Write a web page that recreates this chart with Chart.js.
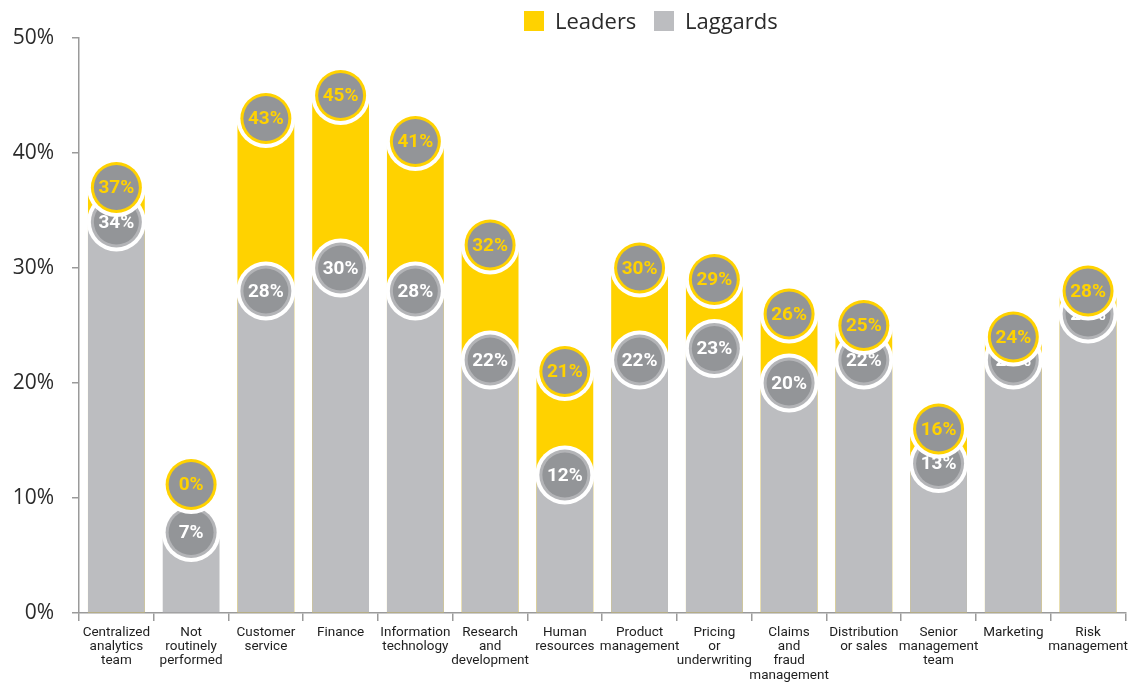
<!DOCTYPE html>
<html>
<head>
<meta charset="utf-8">
<script src="https://cdn.jsdelivr.net/npm/chart.js@4.4.1/dist/chart.umd.min.js"></script>
<style>
  html, body { margin: 0; padding: 0; background: #fff; }
  #wrap { width: 1133px; height: 683px; position: relative; }
</style>
</head>
<body>
<div id="wrap"><canvas id="c" width="1133" height="683"></canvas></div>
<script>
const categories = [
  ["Centralized", "analytics", "team"],
  ["Not", "routinely", "performed"],
  ["Customer", "service"],
  ["Finance"],
  ["Information", "technology"],
  ["Research", "and", "development"],
  ["Human", "resources"],
  ["Product", "management"],
  ["Pricing", "or", "underwriting"],
  ["Claims", "and", "fraud", "management"],
  ["Distribution", "or sales"],
  ["Senior", "management", "team"],
  ["Marketing"],
  ["Risk", "management"]
];
const leaders  = [37, 0, 43, 45, 41, 32, 21, 30, 29, 26, 25, 16, 24, 28];
const laggards = [34, 7, 28, 30, 28, 22, 12, 22, 23, 20, 22, 13, 22, 26];
const yTicks = [0, 10, 20, 30, 40, 50];
const seriesNames = ["Leaders", "Laggards"];

const YELLOW = "#FFD200";
const BAR_GREY = "#BCBDC0";
const DISC_GREY = "#939598";
const RING_GREY = "#B3B4B7";

const circlePlugin = {
  id: "circles",
  afterDatasetsDraw(chart) {
    const ctx = chart.ctx;
    const lagMeta = chart.getDatasetMeta(1);
    const leadMeta = chart.getDatasetMeta(0);
    const R = 25.5, INNER = 22.5, WHITE = 29.5;
    function disc(x, y, ring, textColor, label) {
      ctx.save();
      ctx.beginPath(); ctx.arc(x, y, WHITE, 0, Math.PI * 2); ctx.fillStyle = "#fff"; ctx.fill();
      ctx.beginPath(); ctx.arc(x, y, R, 0, Math.PI * 2); ctx.fillStyle = ring; ctx.fill();
      ctx.beginPath(); ctx.arc(x, y, INNER, 0, Math.PI * 2); ctx.fillStyle = DISC_GREY; ctx.fill();
      ctx.fillStyle = textColor;
      ctx.font = "bold 19px Roboto";
      ctx.textAlign = "center";
      ctx.textBaseline = "middle";
      ctx.fillText(label, x, y + 1);
      ctx.restore();
    }
    const lagY = [];
    lagMeta.data.forEach((el, i) => {
      lagY[i] = el.y;
      disc(el.x, el.y, RING_GREY, "#fff", laggards[i] + "%");
    });
    leadMeta.data.forEach((el, i) => {
      let y = el.y;
      if (leaders[i] < laggards[i]) y = lagY[i] - 48;
      disc(el.x, y, YELLOW, YELLOW, leaders[i] + "%");
    });
  }
};

const legendPlugin = {
  id: "customLegend",
  afterDraw(chart) {
    const ctx = chart.ctx;
    ctx.save();
    ctx.font = "22px 'Open Sans'";
    ctx.textBaseline = "middle";
    ctx.textAlign = "left";
    const items = [[seriesNames[0], YELLOW, 524], [seriesNames[1], BAR_GREY, 654]];
    items.forEach(([t, c, x]) => {
      ctx.fillStyle = c;
      ctx.fillRect(x, 11, 20, 20);
      ctx.fillStyle = "#2b2b2b";
      ctx.fillText(t, x + 31, 23);
    });
    ctx.restore();
  }
};

new Chart(document.getElementById("c"), {
  type: "bar",
  data: {
    labels: categories,
    datasets: [
      { label: seriesNames[0], data: leaders, backgroundColor: YELLOW, grouped: false, order: 2,
        barPercentage: 0.76, categoryPercentage: 1 },
      { label: seriesNames[1], data: laggards, backgroundColor: BAR_GREY, grouped: false, order: 1,
        barPercentage: 0.76, categoryPercentage: 1 }
    ]
  },
  options: {
    responsive: false,
    animation: false,
    layout: { padding: { top: 38, right: 4, bottom: 0, left: 0 } },
    plugins: { legend: { display: false }, tooltip: { enabled: false } },
    scales: {
      x: {
        grid: { display: true, drawOnChartArea: false, drawTicks: true, tickLength: 8, color: "#9a9a9a", lineWidth: 1.5, offset: true },
        border: { color: "#9a9a9a", width: 1.5 },
        ticks: { autoSkip: false, maxRotation: 0, minRotation: 0, padding: 5, color: "#1e1e1e",
                 font: { family: "Roboto", size: 13.5, lineHeight: 1.04 } },
        afterFit(scale) { scale.height = 70; }
      },
      y: {
        min: 0, max: 50,
        afterBuildTicks(scale) { scale.ticks = yTicks.map(v => ({ value: v })); },
        grid: { display: true, drawOnChartArea: false, drawTicks: true, tickLength: 7, color: "#9a9a9a", lineWidth: 1.5 },
        border: { color: "#9a9a9a", width: 1.5 },
        ticks: { padding: 18, color: "#2b2b2b", font: { family: "Open Sans", size: 21 },
                 callback: v => v + "%" },
        afterFit(scale) { scale.width = 79; }
      }
    }
  },
  plugins: [circlePlugin, legendPlugin]
});
</script>
</body>
</html>
